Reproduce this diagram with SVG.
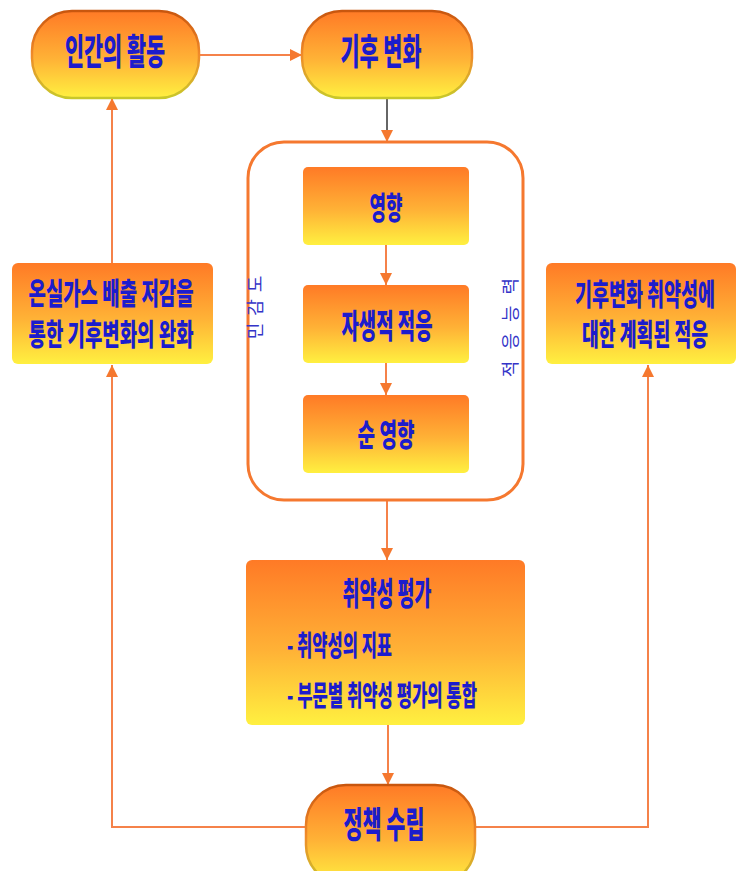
<svg xmlns="http://www.w3.org/2000/svg" width="739" height="871" viewBox="0 0 739 871">
<defs>
<linearGradient id="fill" x1="0" y1="0" x2="0" y2="1">
<stop offset="0" stop-color="#ff7a26"/>
<stop offset="0.55" stop-color="#ffb236"/>
<stop offset="1" stop-color="#fff040"/>
</linearGradient>
<linearGradient id="edge" x1="0" y1="0" x2="0" y2="1">
<stop offset="0" stop-color="#c8560e"/>
<stop offset="0.5" stop-color="#f08a2a"/>
<stop offset="1" stop-color="#c8c82a"/>
</linearGradient>
<marker id="ah" viewBox="0 0 12 12" refX="12" refY="6" markerWidth="12" markerHeight="12" markerUnits="userSpaceOnUse" orient="auto">
<path d="M0,0 L12,6 L0,12 Z" fill="#f5782f"/>
</marker>
</defs>
<style>
.pill{fill:url(#fill);stroke:url(#edge);stroke-width:2.5}
.box{fill:url(#fill);stroke:none}
.t{font-family:"Noto Sans CJK KR","Noto Sans",sans-serif;font-weight:900;fill:#1c1ccc}
.m{text-anchor:middle}
.side{font-family:"Noto Sans CJK KR","Noto Sans",sans-serif;font-weight:400;fill:#3434c8;font-size:18px}
.c{fill:none;stroke:#f5824a;stroke-width:2}
.cd{fill:none;stroke:#333333;stroke-width:1.5}
</style>
<rect width="739" height="871" fill="#ffffff"/>

<g id="connectors">
<line class="c" x1="199" y1="55" x2="302" y2="55" marker-end="url(#ah)"/>
<line class="cd" x1="387" y1="98" x2="387" y2="132"/>
<line class="c" x1="387" y1="130" x2="387" y2="142" marker-end="url(#ah)"/>
<line class="c" x1="386" y1="245" x2="386" y2="285" marker-end="url(#ah)"/>
<line class="c" x1="386" y1="363" x2="386" y2="395" marker-end="url(#ah)"/>
<line class="c" x1="387" y1="500" x2="387" y2="560" marker-end="url(#ah)"/>
<line class="c" x1="388" y1="725" x2="388" y2="785" marker-end="url(#ah)"/>
<polyline class="c" points="306,827 112,827 112,365" marker-end="url(#ah)"/>
<polyline class="c" points="475,827 648,827 648,365" marker-end="url(#ah)"/>
<line class="c" x1="112" y1="263" x2="112" y2="98" marker-end="url(#ah)"/>
</g>

<g id="human-activity">
<rect class="pill" x="32" y="11" width="167" height="87" rx="40" ry="40"/>
<text class="t m" transform="translate(115,65) scale(0.532,1)" font-size="36" textLength="188" lengthAdjust="spacingAndGlyphs">인간의 활동</text>
</g>

<g id="climate-change">
<rect class="pill" x="302" y="11" width="170" height="87" rx="40" ry="40"/>
<text class="t m" transform="translate(381,65) scale(0.533,1)" font-size="36" textLength="152" lengthAdjust="spacingAndGlyphs">기후 변화</text>
</g>

<g id="vulnerability-frame">
<rect x="248" y="142" width="275" height="358" rx="36" ry="36" fill="none" stroke="#f5782f" stroke-width="3"/>
<text class="side" transform="translate(262,304) rotate(-90)" text-anchor="middle" letter-spacing="7">민감도</text>
<text class="side" transform="translate(517,322) rotate(-90)" text-anchor="middle" letter-spacing="11">적응능력</text>
</g>

<g id="impact">
<rect class="box" x="303" y="167" width="166" height="78" rx="5"/>
<text class="t m" transform="translate(386,219) scale(0.532,1)" font-size="31" textLength="62" lengthAdjust="spacingAndGlyphs">영향</text>
</g>

<g id="autonomous-adaptation">
<rect class="box" x="303" y="285" width="166" height="78" rx="5"/>
<text class="t m" transform="translate(387,338) scale(0.528,1)" font-size="33" textLength="172.4" lengthAdjust="spacingAndGlyphs">자생적 적응</text>
</g>

<g id="net-impact">
<rect class="box" x="303" y="395" width="166" height="78" rx="5"/>
<text class="t m" transform="translate(386,446) scale(0.57,1)" font-size="31" textLength="100" lengthAdjust="spacingAndGlyphs">순 영향</text>
</g>

<g id="mitigation">
<rect class="box" x="12" y="263" width="201" height="101" rx="6"/>
<text class="t m" transform="translate(111,304) scale(0.582,1)" font-size="30" textLength="283.5" lengthAdjust="spacingAndGlyphs">온실가스 배출 저감을</text>
<text class="t m" transform="translate(111,345) scale(0.582,1)" font-size="30" textLength="283.5" lengthAdjust="spacingAndGlyphs">통한 기후변화의 완화</text>
</g>

<g id="planned-adaptation">
<rect class="box" x="546" y="263" width="190" height="101" rx="6"/>
<text class="t m" transform="translate(645,305) scale(0.625,1)" font-size="30" textLength="224" lengthAdjust="spacingAndGlyphs">기후변화 취약성에</text>
<text class="t m" transform="translate(645,345) scale(0.546,1)" font-size="30" textLength="230.8" lengthAdjust="spacingAndGlyphs">대한 계획된 적응</text>
</g>

<g id="vulnerability-assessment">
<rect class="box" x="246" y="560" width="279" height="165" rx="6"/>
<text class="t m" transform="translate(387,605) scale(0.532,1)" font-size="32" textLength="167.3" lengthAdjust="spacingAndGlyphs">취약성 평가</text>
<text class="t" transform="translate(287,656) scale(0.553,1)" font-size="28" textLength="189.9" lengthAdjust="spacingAndGlyphs">- 취약성의 지표</text>
<text class="t" transform="translate(287,706) scale(0.555,1)" font-size="28" textLength="342.3" lengthAdjust="spacingAndGlyphs">- 부문별 취약성 평가의 통합</text>
</g>

<g id="policy">
<rect class="pill" x="306" y="785" width="169" height="100" rx="40" ry="40"/>
<text class="t m" transform="translate(384,838) scale(0.533,1)" font-size="36" textLength="152" lengthAdjust="spacingAndGlyphs">정책 수립</text>
</g>
</svg>
